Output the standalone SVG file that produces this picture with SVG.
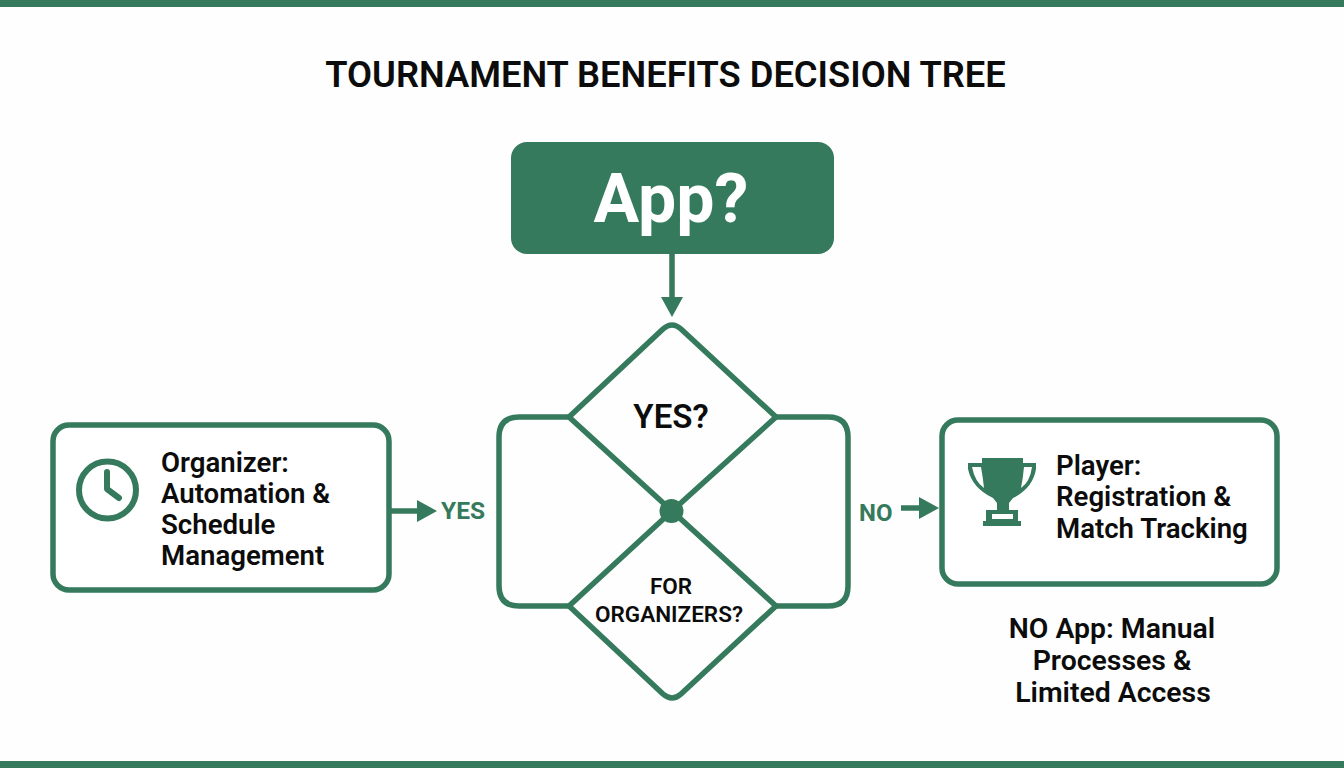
<svg xmlns="http://www.w3.org/2000/svg" width="1344" height="768" viewBox="0 0 1344 768">
<style>
.s{fill:none;stroke:#357a5c;stroke-width:5.500;stroke-linejoin:round;stroke-linecap:round}
.l{fill:none;stroke:#357a5c;stroke-width:5.500}
.b{fill:#fff;stroke:#357a5c;stroke-width:5.500}
.t{font-family:Roboto,"Liberation Sans",sans-serif;font-weight:600;fill:#0c0c0c}
.g{font-family:Roboto,"Liberation Sans",sans-serif;font-weight:700;fill:#357a5c}
.f{fill:#357a5c}
</style>
<defs><marker id="a" markerUnits="userSpaceOnUse" markerWidth="24" markerHeight="24" refX="10" refY="12" orient="auto"><path d="M0 1L20 12L0 23Z" fill="#357a5c"/></marker></defs>
<rect width="1344" height="768" fill="#fdfefd"/>
<rect class="f" width="1344" height="7"/>
<rect class="f" y="761" width="1344" height="7"/>
<text id="title" class="t" x="665.500" y="87" font-size="36.300" font-weight="700" text-anchor="middle">TOURNAMENT BENEFITS DECISION TREE</text>
<g id="connectors">
<path class="s" d="M569 417H519Q499 417 499 437V586Q499 606 519 606H569"/>
<path class="s" d="M776 417H828Q848 417 848 437V586Q848 606 828 606H776"/>
<path class="l" d="M672 254V307" marker-end="url(#a)"/>
<path class="l" d="M390 511H427" marker-end="url(#a)"/>
<path class="l" d="M901 508H929" marker-end="url(#a)"/>
</g>
<g id="app"><rect class="f" x="511" y="142" width="323" height="112" rx="16"/><text x="671" y="222" font-family="Roboto,'Liberation Sans',sans-serif" font-weight="700" font-size="68" fill="#fff" text-anchor="middle">App?</text></g>
<g id="diamond-yes"><path class="s" d="M663 329Q672 321 681 329L776 417L672 511L569 417Z"/><text class="t" x="671" y="428" font-size="33" font-weight="700" text-anchor="middle">YES?</text></g>
<g id="diamond-organizers"><path class="s" d="M672 511L776 606L681 694Q672 702 663 694L569 606Z"/><text class="t" x="671" y="594" font-size="22.500" text-anchor="middle">FOR</text><text class="t" x="669" y="622" font-size="22.500" text-anchor="middle">ORGANIZERS?</text></g>
<g id="junction"><circle class="f" cx="671.500" cy="511" r="12"/></g>
<g id="organizer"><rect class="b" x="53" y="425" width="336" height="165" rx="16"/><circle cx="107.500" cy="490" r="28.500" fill="none" stroke="#357a5c" stroke-width="6"/><path d="M107 472V489L119 498" fill="none" stroke="#357a5c" stroke-width="6" stroke-linecap="round" stroke-linejoin="round"/>
<text class="t" font-size="27.600"><tspan x="161" y="472">Organizer:</tspan><tspan x="161" y="503">Automation &amp;</tspan><tspan x="161" y="534">Schedule</tspan><tspan x="161" y="565">Management</tspan></text></g>
<text id="yes-label" class="g" x="441" y="519" font-size="24.500">YES</text>
<text id="no-label" class="g" x="859" y="521" font-size="24">NO</text>
<g id="player"><rect class="b" x="942" y="420" width="335" height="164" rx="16"/>
<path class="f" d="M982 458H1023V463H1036V469Q1033 488 1013 498L1009 503V510H1018V521H1021V526H983V521H986V510H997V503L993 498Q972 488 968 469V463H982ZM972 467Q975 482 984 488Q983 478 981 467ZM1032 467H1024Q1023 478 1021 488Q1030 482 1032 467ZM992 514V519H1013V514Z" fill-rule="evenodd"/>
<text class="t" font-size="27.600"><tspan x="1056" y="475">Player:</tspan><tspan x="1056" y="506">Registration &amp;</tspan><tspan x="1056" y="538">Match Tracking</tspan></text></g>
<g id="note"><text class="t" font-size="28.400" text-anchor="middle"><tspan x="1112" y="638">NO App: Manual</tspan><tspan x="1112" y="670">Processes &amp;</tspan><tspan x="1113" y="702">Limited Access</tspan></text></g>
</svg>
